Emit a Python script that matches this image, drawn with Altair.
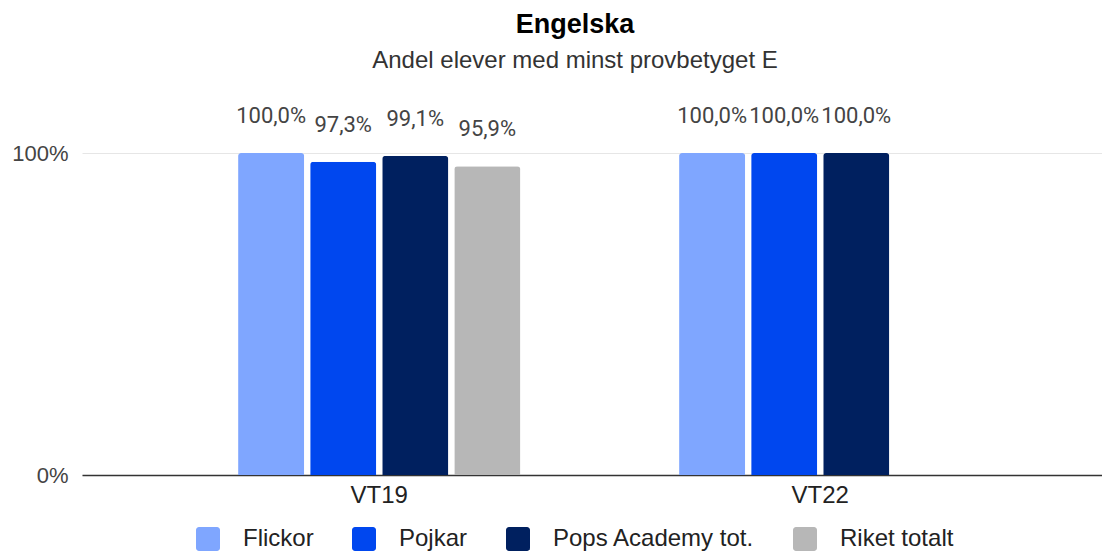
import altair as alt
import pandas as pd

categories = ["VT19", "VT22"]
series = ["Flickor", "Pojkar", "Pops Academy tot.", "Riket totalt"]
values_vt19 = [1.0, 0.973, 0.991, 0.959]
values_vt22 = [1.0, 1.0, 1.0, None]
colors = ["#7fa6ff", "#0047ef", "#00205f", "#b7b7b7"]

rows = []
for cat, vals in zip(categories, [values_vt19, values_vt22]):
    for s, v in zip(series, vals):
        if v is None:
            continue
        rows.append({"Termin": cat, "Serie": s, "Andel": v,
                     "Etikett": f"{v*100:.1f}".replace(".", ",") + "%"})
df = pd.DataFrame(rows)

rsq = ("M-0.75,-1H0.75A0.25,0.25 0 0 1 1,-0.75V0.75A0.25,0.25 0 0 1 0.75,1"
       "H-0.75A0.25,0.25 0 0 1 -1,0.75V-0.75A0.25,0.25 0 0 1 -0.75,-1Z")

x = alt.X("Termin:N", sort=categories, title=None,
          scale=alt.Scale(paddingInner=0.36, paddingOuter=0.3365, align=0.526),
          axis=alt.Axis(labelAngle=0, ticks=False, domainColor="#333333", domainWidth=1.5,
                        labelFont="Liberation Sans", labelFontSize=24, labelColor="#222222",
                        labelPadding=8))
xo = alt.XOffset("Serie:N", sort=series,
                 scale=alt.Scale(domain=series, paddingInner=0.083, paddingOuter=0))
y = alt.Y("Andel:Q", title=None,
          scale=alt.Scale(domain=[0, 1], nice=False),
          axis=alt.Axis(values=[0, 1], format=".0%", domain=False, ticks=False,
                        gridColor="#e6e6e6", labelFont="Liberation Sans", labelFontSize=22,
                        labelColor="#444444", labelPadding=14))

bars = alt.Chart(df).mark_bar(cornerRadiusTopLeft=3, cornerRadiusTopRight=3).encode(
    x=x, xOffset=xo, y=y,
    color=alt.Color("Serie:N", sort=series,
                    scale=alt.Scale(domain=series, range=colors),
                    legend=alt.Legend(title=None, orient="none", direction="horizontal",
                                      legendX=114, legendY=374, symbolType=rsq,
                                      symbolSize=576, symbolStrokeWidth=0, symbolOpacity=1,
                                      labelFont="Liberation Sans", labelFontSize=24,
                                      labelColor="#222222", labelOffset=23,
                                      columnPadding=38, labelLimit=400)),
)

labels = alt.Chart(df).mark_text(baseline="middle", dy=-37, font="Roboto",
                                 fontSize=22, color="#444444").encode(
    x=alt.X("Termin:N", sort=categories), xOffset=xo, y="Andel:Q", text="Etikett:N"
)

chart = (bars + labels).properties(
    width=1020, height=322,
    padding={"left": 74, "top": 145, "right": 0, "bottom": 76},
    autosize=alt.AutoSizeParams(type="none"),
    title=alt.TitleParams(text="Engelska", subtitle="Andel elever med minst provbetyget E",
                          anchor="middle", dx=-17, font="Liberation Sans", fontSize=27,
                          fontWeight="bold", color="#000000", subtitleFont="Liberation Sans",
                          subtitleFontSize=24, subtitleColor="#333333", subtitlePadding=10,
                          offset=31),
).configure_view(stroke=None)

chart.save("out.html", embed_options={"renderer": "svg", "actions": False})
